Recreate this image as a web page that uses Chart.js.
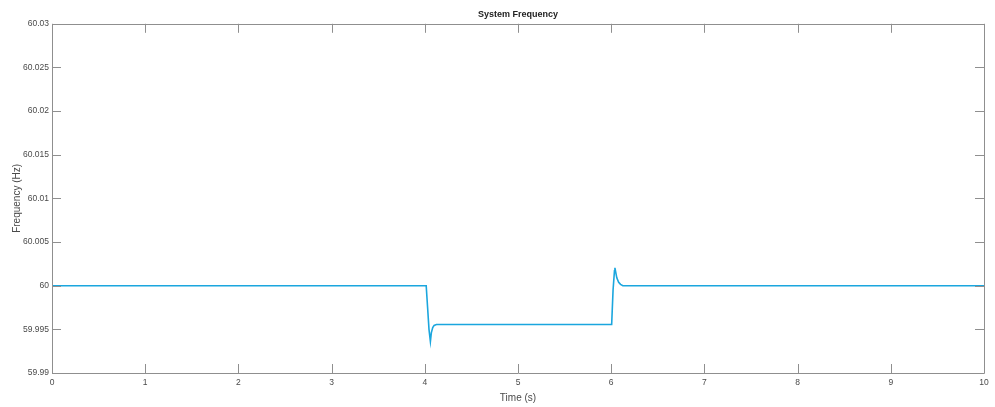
<!DOCTYPE html>
<html>
<head>
<meta charset="utf-8">
<title>System Frequency</title>
<script src="https://cdn.jsdelivr.net/npm/chart.js@4.4.1/dist/chart.umd.min.js"></script>
<style>
    html, body { margin: 0; padding: 0; background: #fff; }
    #wrap { width: 995px; height: 407px; }
</style>
</head>
<body>
<div id="wrap"><canvas id="freqChart"></canvas></div>
<script>
// values
const timeSec = [0, 4.015, 4.03, 4.045, 4.06, 4.07, 4.085, 4.1, 4.125, 6.005, 6.02, 6.035, 6.04, 6.06, 6.08, 6.1, 6.125, 10];
const freqHz = [60, 60, 59.9975, 59.995, 59.9936, 59.9946, 59.9952, 59.99545, 59.99555, 59.99555, 59.9995, 60.0017, 60.00205, 60.0009, 60.0004, 60.00015, 60.0, 60];

const xTicks = [0, 1, 2, 3, 4, 5, 6, 7, 8, 9, 10];
const yTicks = [59.99, 59.995, 60, 60.005, 60.01, 60.015, 60.02, 60.025, 60.03];

const AXIS_COLOR = '#8f8f8f';
const TEXT_COLOR = '#4a4a4a';

Chart.defaults.font.family = "'Liberation Sans', Arial, sans-serif";
Chart.defaults.font.size = 10;
Chart.defaults.color = TEXT_COLOR;

/**
 * MATLAB style box with inward ticks on all four sides
 */
const boxTicks = {
    id: 'boxTicks',
    afterDraw(chart) {
        const { ctx, chartArea: a, scales } = chart;
        const len = 9;
        ctx.save();
        ctx.strokeStyle = AXIS_COLOR;
        ctx.lineWidth = 1;
        ctx.beginPath();
        ctx.rect(Math.round(a.left) + 0.5, Math.round(a.top) + 0.5,
            Math.round(a.right - a.left), Math.round(a.bottom - a.top));
        scales.x.ticks.forEach(t => {
            const px = Math.round(scales.x.getPixelForValue(t.value)) + 0.5;
            ctx.moveTo(px, a.bottom); ctx.lineTo(px, a.bottom - len);
            ctx.moveTo(px, a.top); ctx.lineTo(px, a.top + len);
        });
        scales.y.ticks.forEach(t => {
            const py = Math.round(scales.y.getPixelForValue(t.value)) + 0.5;
            ctx.moveTo(a.left, py); ctx.lineTo(a.left + len, py);
            ctx.moveTo(a.right, py); ctx.lineTo(a.right - len, py);
        });
        ctx.stroke();
        ctx.restore();
    }
};

new Chart(document.getElementById('freqChart'), {
    type: 'line',
    data: {
        datasets: [{
            label: 'Frequency',
            data: timeSec.map((t, i) => ({ x: t, y: freqHz[i] })),
            borderColor: '#1ba6de',
            borderWidth: 1.6,
            pointRadius: 0,
            tension: 0,
            fill: false
        }]
    },
    options: {
        responsive: true,
        maintainAspectRatio: false,
        animation: false,
        layout: { padding: { left: 0, right: 11, top: 0, bottom: 0 } },
        plugins: {
            legend: { display: false },
            tooltip: { enabled: false },
            title: {
                display: true,
                text: 'System Frequency',
                fullSize: false,
                color: '#222',
                font: { size: 9, weight: 'bold' },
                padding: { top: 9, bottom: 4 }
            }
        },
        scales: {
            x: {
                type: 'linear',
                min: 0,
                max: 10,
                afterBuildTicks: s => { s.ticks = xTicks.map(v => ({ value: v })); },
                afterFit: s => { s.height = 34; },
                grid: { display: false, drawTicks: false },
                border: { display: false },
                ticks: { padding: 5, maxRotation: 0, font: { size: 8.5 }, callback: v => String(v) },
                title: { display: true, text: 'Time (s)', padding: { top: 0, bottom: 3 }, font: { size: 10 } }
            },
            y: {
                type: 'linear',
                min: 59.99,
                max: 60.03,
                afterBuildTicks: s => { s.ticks = yTicks.map(v => ({ value: v })); },
                afterFit: s => { s.width = 52; },
                grid: { display: false, drawTicks: false },
                border: { display: false },
                ticks: { padding: 3, font: { size: 8.5 }, callback: v => String(parseFloat(v.toFixed(3))) },
                title: { display: true, text: 'Frequency (Hz)', padding: { top: 11, bottom: 0 }, font: { size: 10 } }
            }
        }
    },
    plugins: [boxTicks]
});
</script>
</body>
</html>
